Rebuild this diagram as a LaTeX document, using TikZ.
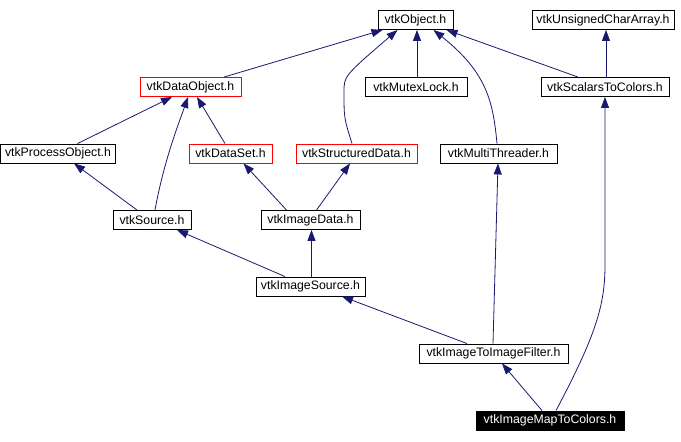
\documentclass[tikz,border=0pt]{standalone}
\usepackage{fontspec}
\setmainfont{Liberation Sans}
\usetikzlibrary{arrows.meta}
\definecolor{inclEdge}{HTML}{191970}
\definecolor{inclRed}{HTML}{FF0000}
\tikzset{
  inclfig/.style={
    x=1pt, y=-1pt,
    every node/.append style={font=\fontsize{12.3}{14}\selectfont},
    >={Triangle[length=11pt, width=8pt]},
  },
  hdrnode/.style={
    draw=black, line width=0.9pt, fill=white, inner sep=0pt,
    minimum height=19pt,
  },
  % Dateien mit eigener Seite: rot umrandet.
  linknode/.style={hdrnode, draw=inclRed},
  rootnode/.style={hdrnode, fill=black, text=white},
  incl/.style={draw=inclEdge, line width=0.8pt, ->},
}
\begin{document}
\begin{tikzpicture}[inclfig]
  \useasboundingbox[fill=white] (0,0) rectangle (681,442);
  \node[hdrnode, minimum width=75pt] (Object) at (415.5,20) {vtkObject.h};
  \node[hdrnode, minimum width=142pt] (UCharArray) at (603,20) {vtkUnsignedCharArray.h};
  \node[linknode, minimum width=101pt] (DataObject) at (190.5,87) {vtkDataObject.h};
  \node[hdrnode, minimum width=102pt] (MutexLock) at (416,87) {vtkMutexLock.h};
  \node[hdrnode, minimum width=128pt] (ScalarsToColors) at (605,87) {vtkScalarsToColors.h};
  \node[hdrnode, minimum width=115pt] (ProcessObject) at (58,153.5) {vtkProcessObject.h};
  \node[linknode, minimum width=83pt] (DataSet) at (230.5,153.5) {vtkDataSet.h};
  \node[linknode, minimum width=121pt] (StructuredData) at (356.5,153.5) {vtkStructuredData.h};
  \node[hdrnode, minimum width=117pt] (MultiThreader) at (498.5,153.5) {vtkMultiThreader.h};
  \node[hdrnode, minimum width=78pt] (Source) at (152,220) {vtkSource.h};
  \node[hdrnode, minimum width=99pt] (ImageData) at (310.5,220) {vtkImageData.h};
  \node[hdrnode, minimum width=109pt] (ImageSource) at (310.5,286.5) {vtkImageSource.h};
  \node[hdrnode, minimum width=149pt] (ImageFilter) at (493.5,353.5) {vtkImageToImageFilter.h};
  \node[rootnode, minimum width=148pt] (ImageMap) at (550,420.5) {vtkImageMapToColors.h};
  \draw[incl] ([xshift=33.5]DataObject.north) -- ([xshift=-33]Object.south);
  \draw[incl] ([xshift=-4.5]StructuredData.north) .. controls (344,118) .. (344,92)
    .. controls (344,76) .. ([xshift=-18]Object.south);
  \draw[incl] ([xshift=1]MutexLock.north) -- ([xshift=1.5]Object.south);
  \draw[incl] ([xshift=-1.5]MultiThreader.north) .. controls (493,100) and (486,72) .. ([xshift=18]Object.south);
  \draw[incl] ([xshift=-27]ScalarsToColors.north) -- ([xshift=31]Object.south);
  \draw[incl] ([xshift=1]ScalarsToColors.north) -- ([xshift=3]UCharArray.south);
  \draw[incl] ([xshift=19.5]ProcessObject.north) -- ([xshift=-18.5]DataObject.south);
  \draw[incl] ([xshift=3]Source.north) .. controls (164,160) and (180,120) .. ([xshift=-2.5]DataObject.south);
  \draw[incl] ([xshift=-5.5]DataSet.north) -- ([xshift=6.5]DataObject.south);
  \draw[incl] ([xshift=-15]Source.north) -- ([xshift=16]ProcessObject.south);
  \draw[incl] ([xshift=-24]ImageData.north) -- ([xshift=13]DataSet.south);
  \draw[incl] ([xshift=6]ImageData.north) -- ([xshift=-6.5]StructuredData.south);
  \draw[incl] ([xshift=-25.5]ImageSource.north) -- ([xshift=25]Source.south);
  \draw[incl] ([xshift=1]ImageSource.north) -- ([xshift=1]ImageData.south);
  \draw[incl] ([xshift=-26.5]ImageFilter.north) -- ([xshift=31.5]ImageSource.south);
  \draw[incl] ([xshift=-0.5]ImageFilter.north) -- ([xshift=-0.5]MultiThreader.south);
  \draw[incl] ([xshift=-8]ImageMap.north) -- ([xshift=8.5]ImageFilter.south);
  \draw[incl] ([xshift=6]ImageMap.north) .. controls (596,335) and (605,305) .. (605,265)
    -- (ScalarsToColors.south);
\end{tikzpicture}
\end{document}
